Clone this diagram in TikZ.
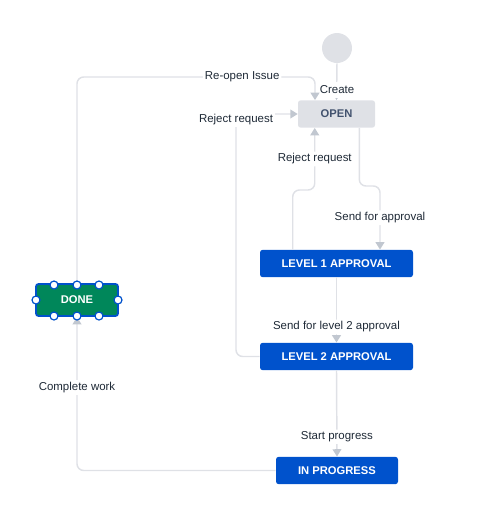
\documentclass[tikz,border=0pt]{standalone}
\usepackage{fontspec}
\setmainfont{Liberation Sans}
\usetikzlibrary{arrows.meta,calc}
\definecolor{edgec}{HTML}{DFE1E6}
\definecolor{arrc}{HTML}{C1C7D0}
\definecolor{openc}{HTML}{DFE1E6}
\definecolor{bluec}{HTML}{0052CC}
\definecolor{greenc}{HTML}{00875A}
\definecolor{txtc}{HTML}{1F2A37}
\definecolor{opentxt}{HTML}{42526E}
\tikzset{
  edge/.style={draw=edgec, line width=1.1pt, rounded corners=5, -{Triangle[width=6.5pt,length=5.5pt,color=arrc]}},
  lbl/.style={fill=white, inner sep=1.5pt, text=txtc, font=\fontsize{8.6}{10}\selectfont},
  statebox/.style={rounded corners=2pt, minimum height=20.5pt, font=\fontsize{8.4}{10}\selectfont\bfseries, inner sep=0pt},
  bluebox/.style={statebox, fill=bluec, text=white},
  handle/.style={circle, draw=bluec, fill=white, line width=0.9pt, minimum size=6pt, inner sep=0pt},
}
\begin{document}
\begin{tikzpicture}[x=0.75pt, y=-0.75pt]
\useasboundingbox (0,0) rectangle (495,515);
% coordinates
\coordinate (reo) at (315,77);
\coordinate (rjx) at (236,114);
\coordinate (rjm) at (293,190);
\coordinate (sfa) at (380,186);
% states
\node[circle, fill=openc, minimum size=22.5pt, inner sep=0pt] (start) at (337,48) {};
\node[statebox, fill=openc, text=opentxt, minimum width=57.75pt] (open) at (336.5,114) {OPEN};
\node[bluebox, minimum width=114.75pt] (l1) at (336.5,263.5) {LEVEL 1 APPROVAL};
\node[bluebox, minimum width=114.75pt] (l2) at (336.5,356.5) {LEVEL 2 APPROVAL};
\node[bluebox, minimum width=91.5pt] (ip) at (337,470.5) {IN PROGRESS};
\node[statebox, fill=greenc, text=white, draw=bluec, line width=1.4pt, minimum width=61.5pt, minimum height=24pt] (done) at (77,300) {DONE};
\coordinate (rjs) at ($(l1.north west)+(33,0)$);
\coordinate (rjb) at ($(open.south west)+(17,0)$);
\coordinate (sfs) at ($(open.south east)+(-16,0)$);
% connectors
\draw[edge] (start.south) -- (open.north);
\node[lbl, inner ysep=3.2pt] (crl) at (337,90) {Create};
\draw[edge] (done.north) |- node[lbl, pos=0.847] {Re-open Issue} (reo) -- (reo |- open.north);
\draw[edge] (l2.west) -| (rjx) -- (open.west);
\node[lbl] (rjl) at (236,120) {Reject request};
\draw[edge] (rjs) |- (rjb |- rjm) -- node[lbl, pos=0.5] {Reject request} (rjb);
\draw[edge] (sfs) |- (sfa) -- node[lbl, pos=0.5] {Send for approval} (sfa |- l1.north);
\draw[edge] (l1.south) -- node[lbl, pos=0.76] {Send for level 2 approval} (l2.north);
\draw[edge] (l2.south) -- node[lbl, pos=0.77] {Start progress} (ip.north);
\draw[edge] (ip.west) -| node[lbl, pos=0.77] {Complete work} (done.south);
% selection handles on DONE
\foreach \hx/\hn in {54/a,77/b,99/c}{
  \node[handle] (ht\hn) at (\hx,285) {};
  \node[handle] (hb\hn) at (\hx,316) {};
}
\node[handle] (hl) at (36,300) {};
\node[handle] (hr) at (118,300) {};
\end{tikzpicture}
\end{document}
